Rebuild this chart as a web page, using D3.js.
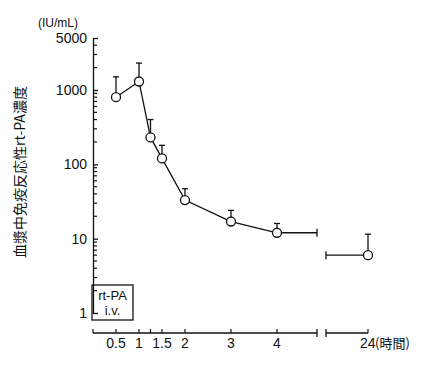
<!DOCTYPE html>
<html>
<head>
<meta charset="utf-8">
<script src="https://cdn.jsdelivr.net/npm/d3@7"></script>
<style>
	body { margin: 0; background: #fff; }
	text { font-family: "Liberation Sans", "DejaVu Sans", sans-serif; fill: #111; }
	text.cjk { font-family: "Noto Sans CJK JP", "Noto Sans", sans-serif; }
</style>
</head>
<body>
<div id="chart"></div>
<script>
	// values (hours after i.v., IU/mL)
	var times = [0.5, 1, 1.25, 1.5, 2, 3, 4];
	var means = [800, 1300, 230, 120, 33, 17, 12];
	var uppers = [1500, 2300, 400, 180, 47, 24, 16];
	var lateTime = [24];
	var lateMean = [6];
	var lateUpper = [11.5];
	var xTicks = [0.5, 1, 1.25, 1.5, 2, 3, 4];
	var xTickLabels = ["0.5", "1", "", "1.5", "2", "3", "4"];
	var yMajor = [1, 10, 100, 1000, 5000];

	var width = 423, height = 372;
	var svg = d3.select("#chart").append("svg").attr("width", width).attr("height", height);
	var g = svg.append("g");

	var y = d3.scaleLog().domain([1, 5000]).range([313, 38]);
	var xMain = d3.scaleLinear().domain([0, 4.87]).range([93, 317]);
	var xLate = d3.scaleLinear().domain([23.1, 24]).range([326, 368]);
	var axisY = 333;

	/* y axis */
	var minor = [];
	[1, 10, 100, 1000].forEach(function(p){
		for (var k = 2; k <= 9; k++){ if (k * p < 5000) minor.push(k * p); }
	});
	var yAxis = d3.axisLeft(y).tickValues(yMajor).tickSizeInner(-5).tickSizeOuter(0).tickPadding(6)
		.tickFormat(d3.format("d"));
	var gy = g.append("g").attr("transform", "translate(" + xMain(0) + ",0)").call(yAxis);
	gy.selectAll("text").style("font-size", "14px").style("fill", "#111")
		.style("font-family", "'Liberation Sans', sans-serif");
	gy.selectAll("line, path").attr("stroke", "#111").attr("stroke-width", 1.3);
	gy.selectAll(".minor").data(minor).enter().append("line")
		.attr("class", "minor")
		.attr("x1", 0).attr("x2", 4)
		.attr("y1", function(d){return y(d);}).attr("y2", function(d){return y(d);})
		.attr("stroke", "#111").attr("stroke-width", 1.2);

	g.append("text").attr("x", 58).attr("y", 27)
		.attr("text-anchor", "middle").style("font-size", "12px").text("(IU/mL)");

	g.append("text")
		.attr("class", "cjk")
		.attr("transform", "translate(25," + 172 + ") rotate(-90)")
		.attr("text-anchor", "middle")
		.style("font-size", "14px")
		.text("血漿中免疫反応性rt-PA濃度");

	/* x axis, broken */
	var gx = g.append("g").attr("transform", "translate(0," + axisY + ")");
	gx.append("line").attr("x1", xMain(0)).attr("x2", xMain.range()[1]).attr("y1", 0).attr("y2", 0)
		.attr("stroke", "#111").attr("stroke-width", 1.3);
	gx.append("line").attr("x1", xLate.range()[0]).attr("x2", xLate(24)).attr("y1", 0).attr("y2", 0)
		.attr("stroke", "#111").attr("stroke-width", 1.3);
	gx.selectAll(".xt").data([0].concat(xTicks)).enter().append("line")
		.attr("x1", function(d){return xMain(d);}).attr("x2", function(d){return xMain(d);})
		.attr("y1", 0).attr("y2", -4).attr("stroke", "#111").attr("stroke-width", 1.2);
	gx.append("line").attr("x1", xLate(24)).attr("x2", xLate(24)).attr("y1", 0).attr("y2", -4)
		.attr("stroke", "#111").attr("stroke-width", 1.2);
	[xMain.range()[1], xLate.range()[0]].forEach(function(px){
		gx.append("line").attr("x1", px).attr("x2", px).attr("y1", -4).attr("y2", 4)
			.attr("stroke", "#111").attr("stroke-width", 1.3);
	});
	gx.selectAll(".xl").data(xTicks).enter().append("text")
		.attr("x", function(d){return xMain(d);}).attr("y", 15)
		.attr("text-anchor", "middle").style("font-size", "14px")
		.text(function(d, i){return xTickLabels[i];});
	gx.append("text").attr("x", xLate(24) - 8).attr("y", 15).style("font-size", "14px").text("24");
	gx.append("text").attr("class", "cjk").attr("x", xLate(24) + 7).attr("y", 15).style("font-size", "13px").text("(時間)");

	/* legend box */
	var lg = g.append("g");
	lg.append("rect").attr("x", 92).attr("y", 285).attr("width", 41).attr("height", 35)
		.attr("fill", "none").attr("stroke", "#111").attr("stroke-width", 1.3);
	lg.append("text").attr("x", 112.5).attr("y", 300).attr("text-anchor", "middle").style("font-size", "13px").text("rt-PA");
	lg.append("text").attr("x", 112.5).attr("y", 315).attr("text-anchor", "middle").style("font-size", "13px").text("i.v.");

	/* data */
	var pts = times.map(function(t, i){return {x: xMain(t), y: y(means[i]), yu: y(uppers[i])};});
	var late = lateTime.map(function(t, i){return {x: xLate(t), y: y(lateMean[i]), yu: y(lateUpper[i])};});
	var all = pts.concat(late);

	g.selectAll(".err").data(all).enter().append("line")
		.attr("x1", function(d){return d.x;}).attr("x2", function(d){return d.x;})
		.attr("y1", function(d){return d.y;}).attr("y2", function(d){return d.yu;})
		.attr("stroke", "#111").attr("stroke-width", 1.3);
	g.selectAll(".cap").data(all).enter().append("line")
		.attr("x1", function(d){return d.x - 3;}).attr("x2", function(d){return d.x + 3;})
		.attr("y1", function(d){return d.yu;}).attr("y2", function(d){return d.yu;})
		.attr("stroke", "#111").attr("stroke-width", 1.3);

	g.append("path").datum(pts)
		.attr("d", d3.line().x(function(d){return d.x;}).y(function(d){return d.y;}))
		.attr("fill", "none").attr("stroke", "#111").attr("stroke-width", 1.3);

	// horizontal runs towards the axis break
	var last = pts[pts.length - 1];
	g.append("line").attr("x1", last.x).attr("x2", xMain.range()[1]).attr("y1", last.y).attr("y2", last.y)
		.attr("stroke", "#111").attr("stroke-width", 1.3);
	g.append("line").attr("x1", xMain.range()[1]).attr("x2", xMain.range()[1]).attr("y1", last.y - 4).attr("y2", last.y + 4)
		.attr("stroke", "#111").attr("stroke-width", 1.3);
	g.append("line").attr("x1", xLate.range()[0]).attr("x2", late[0].x).attr("y1", late[0].y).attr("y2", late[0].y)
		.attr("stroke", "#111").attr("stroke-width", 1.3);
	g.append("line").attr("x1", xLate.range()[0]).attr("x2", xLate.range()[0]).attr("y1", late[0].y - 4).attr("y2", late[0].y + 4)
		.attr("stroke", "#111").attr("stroke-width", 1.3);

	g.selectAll(".pt").data(all).enter().append("circle")
		.attr("cx", function(d){return d.x;}).attr("cy", function(d){return d.y;})
		.attr("r", 4.5).attr("fill", "#fff").attr("stroke", "#111").attr("stroke-width", 1.3);
</script>
</body>
</html>
